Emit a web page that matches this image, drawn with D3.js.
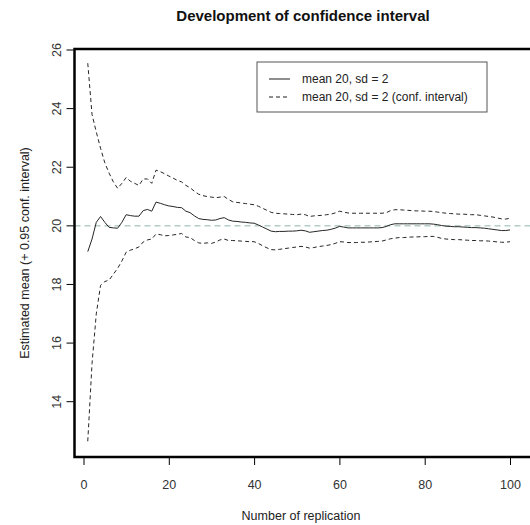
<!DOCTYPE html>
<html>
<head>
<meta charset="utf-8">
<script src="https://cdn.jsdelivr.net/npm/d3@7"></script>
<style>
  body { margin: 0; background: #fff; }
  text { font-family: "Liberation Sans", Arial, sans-serif; }
</style>
</head>
<body>
<svg id="chart" width="530" height="525"></svg>
<script>
// replication numbers 1..100
const replications = d3.range(1, 101);

// estimated mean after n replications
const meanValues = [
  19.12, 19.55, 20.12, 20.32, 20.12, 19.95, 19.93, 19.92, 20.12, 20.38,
  20.35, 20.33, 20.33, 20.52, 20.56, 20.50, 20.81, 20.77, 20.72, 20.68,
  20.66, 20.63, 20.62, 20.50, 20.45, 20.34, 20.25, 20.22, 20.21, 20.19,
  20.20, 20.25, 20.28, 20.20, 20.16, 20.15, 20.13, 20.12, 20.10, 20.09,
  20.03, 19.96, 19.89, 19.82, 19.80, 19.81, 19.81, 19.82, 19.82, 19.83,
  19.85, 19.83, 19.78, 19.80, 19.82, 19.84, 19.85, 19.88, 19.92, 19.98,
  19.96, 19.93, 19.93, 19.93, 19.93, 19.93, 19.93, 19.93, 19.93, 19.94,
  19.98, 20.04, 20.07, 20.07, 20.07, 20.07, 20.07, 20.07, 20.07, 20.07,
  20.07, 20.06, 20.04, 20.01, 19.99, 19.98, 19.97, 19.97, 19.96, 19.95,
  19.94, 19.94, 19.93, 19.92, 19.90, 19.88, 19.86, 19.84, 19.84, 19.86
];

// upper bound of the 0.95 confidence interval
const upperValues = [
  25.55, 23.80, 23.20, 22.65, 22.15, 21.80, 21.50, 21.28, 21.45, 21.65,
  21.52, 21.45, 21.38, 21.60, 21.60, 21.45, 21.90, 21.85, 21.78, 21.70,
  21.63, 21.55, 21.50, 21.38, 21.30, 21.18, 21.08, 21.03, 21.00, 20.98,
  20.96, 20.98, 21.00, 20.90, 20.82, 20.80, 20.78, 20.76, 20.74, 20.72,
  20.67, 20.60, 20.53, 20.46, 20.43, 20.42, 20.41, 20.40, 20.39, 20.38,
  20.40, 20.38, 20.32, 20.34, 20.35, 20.36, 20.38, 20.40, 20.44, 20.50,
  20.47, 20.44, 20.43, 20.43, 20.43, 20.43, 20.43, 20.43, 20.43, 20.43,
  20.45, 20.52, 20.55, 20.55, 20.54, 20.53, 20.52, 20.51, 20.51, 20.50,
  20.50, 20.49, 20.47, 20.45, 20.43, 20.42, 20.41, 20.40, 20.40, 20.39,
  20.38, 20.38, 20.36, 20.34, 20.32, 20.30, 20.27, 20.24, 20.23, 20.26
];

// lower bound of the 0.95 confidence interval
const lowerValues = [
  12.65, 15.30, 17.00, 17.97, 18.10, 18.15, 18.35, 18.55, 18.80, 19.10,
  19.17, 19.22, 19.28, 19.45, 19.52, 19.55, 19.72, 19.70, 19.66, 19.67,
  19.69, 19.71, 19.74, 19.62, 19.60, 19.50, 19.42, 19.40, 19.42, 19.40,
  19.45, 19.52, 19.55, 19.50, 19.50, 19.49, 19.48, 19.47, 19.46, 19.46,
  19.40, 19.32, 19.25, 19.19, 19.18, 19.20, 19.22, 19.24, 19.26, 19.28,
  19.30, 19.28, 19.24, 19.26, 19.29, 19.31, 19.33, 19.36, 19.40, 19.46,
  19.45, 19.43, 19.43, 19.43, 19.44, 19.44, 19.45, 19.46, 19.47, 19.48,
  19.52, 19.56, 19.58, 19.60, 19.60, 19.61, 19.62, 19.62, 19.63, 19.63,
  19.64, 19.64, 19.61, 19.57, 19.55, 19.54, 19.53, 19.53, 19.52, 19.51,
  19.50, 19.50, 19.49, 19.49, 19.48, 19.47, 19.45, 19.44, 19.44, 19.46
];

const trueMean = 20;
const xTicks = [0, 20, 40, 60, 80, 100];
const yTicks = [14, 16, 18, 20, 22, 24, 26];
const legendLabels = ["mean 20, sd = 2", "mean 20, sd = 2 (conf. interval)"];

const svg = d3.select("#chart");

// plot region (box), right side runs off the page like the original
const box = { left: 74.5, right: 534, top: 49, bottom: 457 };

const x = d3.scaleLinear().domain([0, 100]).range([83.5, 510]);
const y = d3.scaleLinear().domain([14, 26]).range([401.7, 50]);

const plot = svg.append("g");

// reference line at the true mean
plot.append("line")
  .attr("x1", box.left).attr("x2", box.right)
  .attr("y1", y(trueMean)).attr("y2", y(trueMean))
  .attr("stroke", "#8fb3ab")
  .attr("stroke-width", 1)
  .attr("stroke-dasharray", "6,4");

const line = d3.line()
  .x(d => x(d[0]))
  .y(d => y(d[1]));

const series = [
  { values: upperValues, dash: "4,3" },
  { values: lowerValues, dash: "4,3" },
  { values: meanValues, dash: null }
];

series.forEach(s => {
  plot.append("path")
    .datum(replications.map((r, i) => [r, s.values[i]]))
    .attr("d", line)
    .attr("fill", "none")
    .attr("stroke", "#262626")
    .attr("stroke-width", 1)
    .attr("stroke-dasharray", s.dash);
});

// box
svg.append("rect")
  .attr("x", box.left).attr("y", box.top)
  .attr("width", box.right - box.left)
  .attr("height", box.bottom - box.top)
  .attr("fill", "none")
  .attr("stroke", "#000")
  .attr("stroke-width", 2.5);

// x axis
const xAxis = svg.append("g")
  .attr("transform", `translate(0, ${box.bottom + 1})`)
  .call(d3.axisBottom(x).tickValues(xTicks).tickSize(7).tickPadding(15));
xAxis.select(".domain").remove();
xAxis.selectAll("text")
  .attr("font-size", 12.5)
  .attr("fill", "#333")
  .attr("font-family", "Liberation Sans, Arial, sans-serif");

// y axis, labels rotated like base R
const yAxis = svg.append("g")
  .attr("transform", `translate(${box.left - 1}, 0)`)
  .call(d3.axisLeft(y).tickValues(yTicks).tickSize(7));
yAxis.select(".domain").remove();
yAxis.selectAll("text")
  .attr("x", null).attr("dy", null)
  .attr("transform", d => `translate(-13, ${y(d)}) rotate(-90)`)
  .attr("y", 0)
  .attr("text-anchor", "middle")
  .attr("font-size", 12.5)
  .attr("fill", "#333")
  .attr("font-family", "Liberation Sans, Arial, sans-serif");
yAxis.selectAll(".tick").attr("transform", null);
yAxis.selectAll(".tick line")
  .attr("y1", d => y(d)).attr("y2", d => y(d));

// titles
svg.append("text")
  .attr("x", 303).attr("y", 21)
  .attr("text-anchor", "middle")
  .attr("font-size", 15)
  .attr("font-weight", "bold")
  .attr("fill", "#111")
  .text("Development of confidence interval");

svg.append("text")
  .attr("x", 301).attr("y", 520)
  .attr("text-anchor", "middle")
  .attr("font-size", 12.5)
  .attr("fill", "#222")
  .text("Number of replication");

svg.append("text")
  .attr("transform", `translate(29, ${(box.top + box.bottom) / 2}) rotate(-90)`)
  .attr("text-anchor", "middle")
  .attr("font-size", 12.5)
  .attr("fill", "#222")
  .text("Estimated mean (+ 0.95 conf. interval)");

// legend
const legend = svg.append("g").attr("transform", "translate(257, 62)");
legend.append("rect")
  .attr("width", 230).attr("height", 50)
  .attr("fill", "#fff")
  .attr("stroke", "#555")
  .attr("stroke-width", 1);

legendLabels.forEach((label, i) => {
  const row = legend.append("g").attr("transform", `translate(0, ${17 + i * 18})`);
  row.append("line")
    .attr("x1", 12).attr("x2", 33)
    .attr("stroke", "#1e1e1e")
    .attr("stroke-width", 1)
    .attr("stroke-dasharray", i === 0 ? null : "4,3");
  row.append("text")
    .attr("x", 45).attr("dy", "0.35em")
    .attr("font-size", 12)
    .attr("fill", "#222")
    .text(label);
});
</script>
</body>
</html>
